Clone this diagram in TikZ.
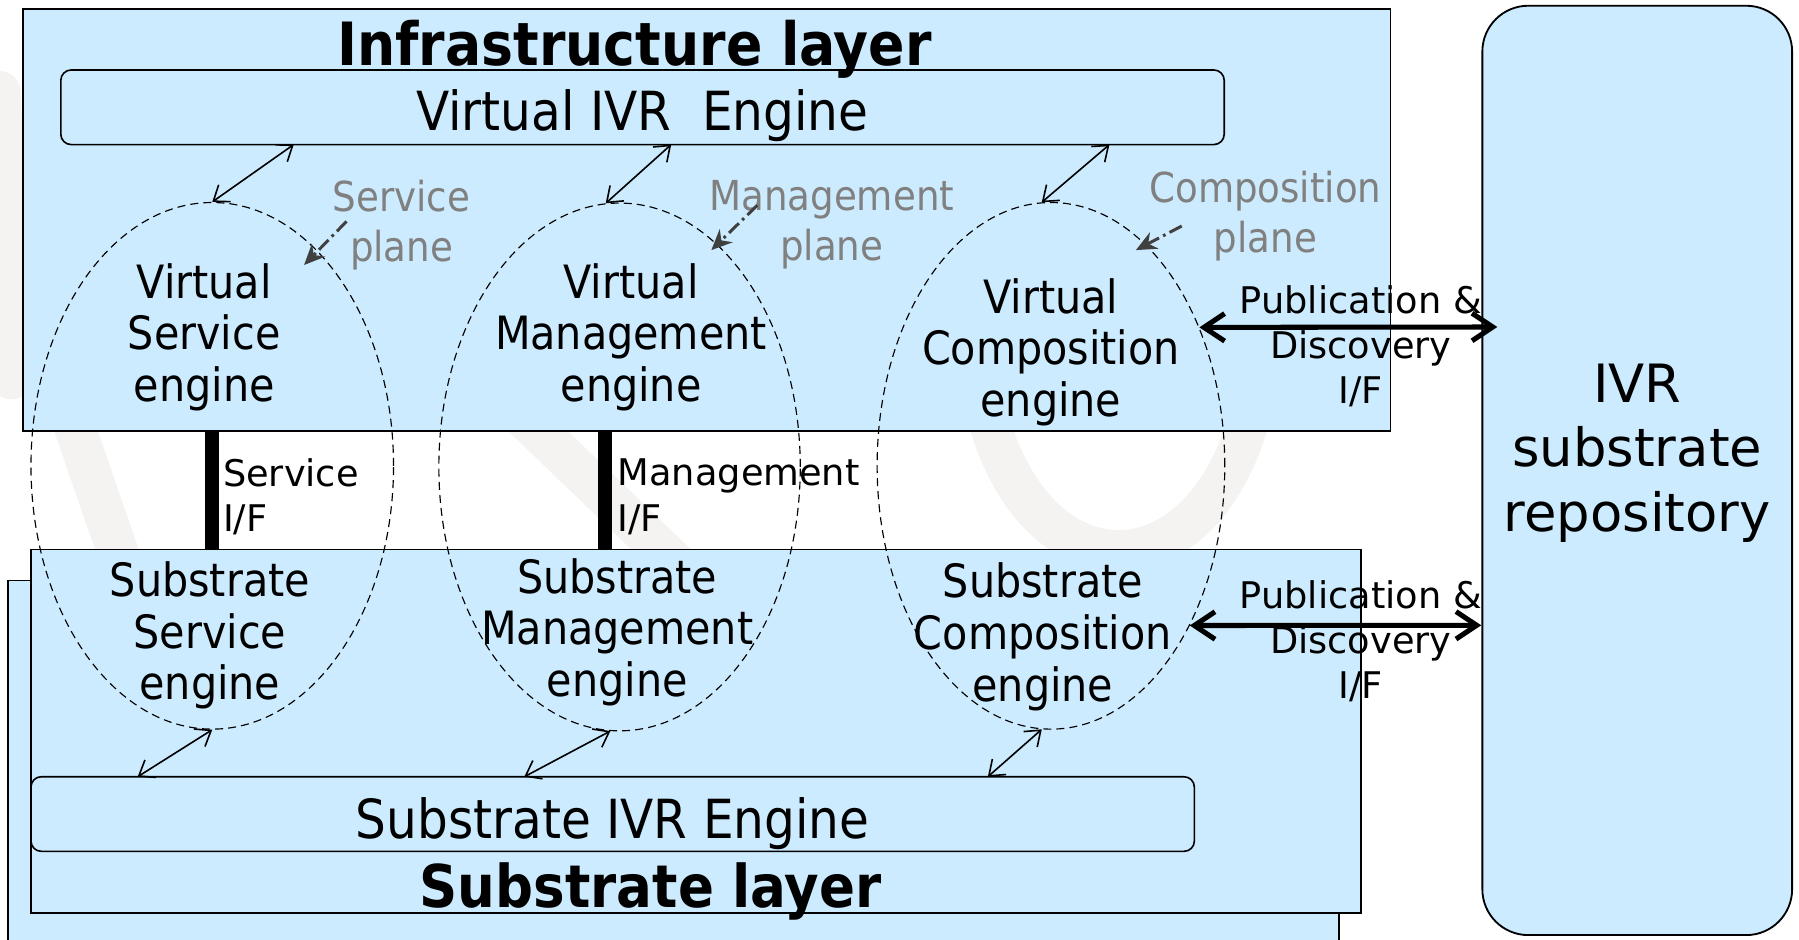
\documentclass[tikz,border=0pt]{standalone}
\usepackage{fontspec}
\setmainfont{DejaVu Sans Condensed}
\newfontfamily\widefont{DejaVu Sans}
\usetikzlibrary{arrows.meta,shapes.geometric,calc}
\definecolor{lblue}{HTML}{CCEBFE}
\definecolor{lgray}{HTML}{808080}
\definecolor{dgray}{HTML}{404040}
\definecolor{wmark}{HTML}{F4F3F1}
\begin{document}
\begin{tikzpicture}[x=0.5pt,y=-0.5pt,
 layer/.style={draw=black, line width=0.8pt, fill=lblue, inner sep=0},
 ivrbox/.style={draw=black, line width=0.7pt, fill=lblue, rounded corners=4.5pt, minimum width=507pt, minimum height=32.5pt, inner sep=0},
 boxtext/.style={inner sep=0, font=\fontsize{23.5}{26}\selectfont},
 eng/.style={ellipse, draw=black, line width=0.5pt, dash pattern=on 3.5pt off 2.2pt, inner sep=0},
 lbl/.style={align=center, inner sep=0, font=\fontsize{20}{22.5}\selectfont},
 plbl/.style={align=center, inner sep=0, text=lgray, font=\fontsize{18}{21.75}\selectfont},
 iflbl/.style={align=left, anchor=west, inner sep=0, font=\widefont\fontsize{16}{20}\selectfont},
 publbl/.style={align=center, inner sep=0, font=\widefont\fontsize{16}{19.5}\selectfont},
 layertitle/.style={inner sep=0, font=\bfseries\fontsize{26}{30}\selectfont},
 dbl/.style={line width=0.7pt, {Straight Barb[length=6pt,width=9pt]}-{Straight Barb[length=6pt,width=9pt]}},
 pub/.style={line width=2.2pt, {Straight Barb[length=9pt,width=12pt]}-{Straight Barb[length=9pt,width=12pt]}},
 bar/.style={line width=6pt},
 planearrow/.style={dgray, line width=1.3pt, dash pattern=on 6pt off 2pt on 1.2pt off 2pt, -{Stealth[length=9pt,width=8pt]}},
 wm/.style={wmark, line width=18pt, line cap=round}
]
\useasboundingbox (0,0) rectangle (1568,819);
\fill[white] (0,0) rectangle (1568,819);
% faint watermark
\draw[wm] (40,300) -- (130,560);
\draw[wm] (390,300) -- (640,540);
\draw[wm] (850,300) .. controls (870,540) and (1080,540) .. (1100,300);
\draw[wm] (0,80) -- (10,330);
% layers
\path[layer] (7,506) rectangle (1167,850);
\node[layer, minimum width=596pt, minimum height=184pt] (infra) at (616,192) {};
\node[layer, minimum width=579.5pt, minimum height=158.5pt] (sub) at (606.5,637.5) {};
\node[layer, rounded corners=20pt, minimum width=135pt, minimum height=405pt] (repo) at (1427,410) {};
% interfaces between layers
\draw[bar] (infra.south -| 185,0) -- (sub.north -| 185,0);
\draw[bar] (infra.south -| 527,0) -- (sub.north -| 527,0);
% engines
\node[ivrbox] (vivr) at (560,93.5) {};
\node[ivrbox] (sivr) at (534,709.5) {};
\node[boxtext] (vivrtext) at ([yshift=-3.5pt]vivr.center) {Virtual IVR~~Engine};
\node[boxtext] (sivrtext) at ([yshift=-4pt]sivr.center) {Substrate IVR Engine};
\node[layertitle] (ititle) at (553,43) {Infrastructure layer};
\node[layertitle, font=\bfseries\fontsize{25.7}{30}\selectfont] (stitle) at (567,777) {Substrate layer};
% planes
\node[eng, minimum width=158pt, minimum height=229.5pt] (sell) at (185,406) {};
\node[eng, minimum width=157.5pt, minimum height=230pt] (mell) at (540,407) {};
\node[eng, minimum width=151.5pt, minimum height=229.5pt] (cell) at (916,406) {};
% texts
\node[lbl] (vse) at (178,294) {Virtual\\Service\\engine};
\node[lbl] (vme) at (550,294) {Virtual\\Management\\engine};
\node[lbl] (vce) at (916,307) {Virtual\\Composition\\engine};
\node[lbl] (sse) at (183,554) {Substrate\\Service\\engine};
\node[lbl] (sme) at (538,551) {Substrate\\Management\\engine};
\node[lbl] (sce) at (909,555) {Substrate\\Composition\\engine};
\node[plbl] (pl1) at (350,196) {Service\\plane};
\node[plbl] (pl2) at (725,196) {Management\\plane};
\node[plbl] (pl3) at (1103,188) {Composition\\plane};
\node[iflbl] (sif) at (194,433) {Service\\I/F};
\node[iflbl] (mif) at (538,433) {Management\\I/F};
\node[publbl] (pub1) at (1186,302) {Publication \&\\Discovery\\I/F};
\node[publbl] (pub2) at (1186,559) {Publication \&\\Discovery\\I/F};
\node[align=center, inner sep=0, font=\widefont\fontsize{23}{28}\selectfont] (repotext) at (1427,395) {IVR\\substrate\\repository};
% connector ends
\coordinate (t1) at (256,126);
\coordinate (t2) at (585,126);
\coordinate (t3) at (967,126);
\coordinate (b1) at (120,677);
\coordinate (b2) at (457,677);
\coordinate (b3) at (861,677);
\coordinate (p1) at (1305,285);
\coordinate (p2) at (1291,545);
\coordinate (s1) at (302,193);
\coordinate (s2) at (660,179);
\coordinate (s3) at (1030,197);
\coordinate (e1) at (265,231);
\coordinate (e2) at (620,218);
\coordinate (e3) at (990,218);
% connectors
\draw[dbl] (t1) -- (sell.north);
\draw[dbl] (t2) -- (mell.93);
\draw[dbl] (t3) -- (cell.92);
\draw[dbl] (sell.south) -- (b1);
\draw[dbl] (mell.268) -- (b2);
\draw[dbl] (cell.268) -- (b3);
\draw[pub] (cell.43) -- (p1);
\draw[pub] (cell.-49) -- (p2);
\draw[planearrow] (s1) -- (e1);
\draw[planearrow] (s2) -- (e2);
\draw[planearrow] (s3) -- (e3);
\end{tikzpicture}
\end{document}
